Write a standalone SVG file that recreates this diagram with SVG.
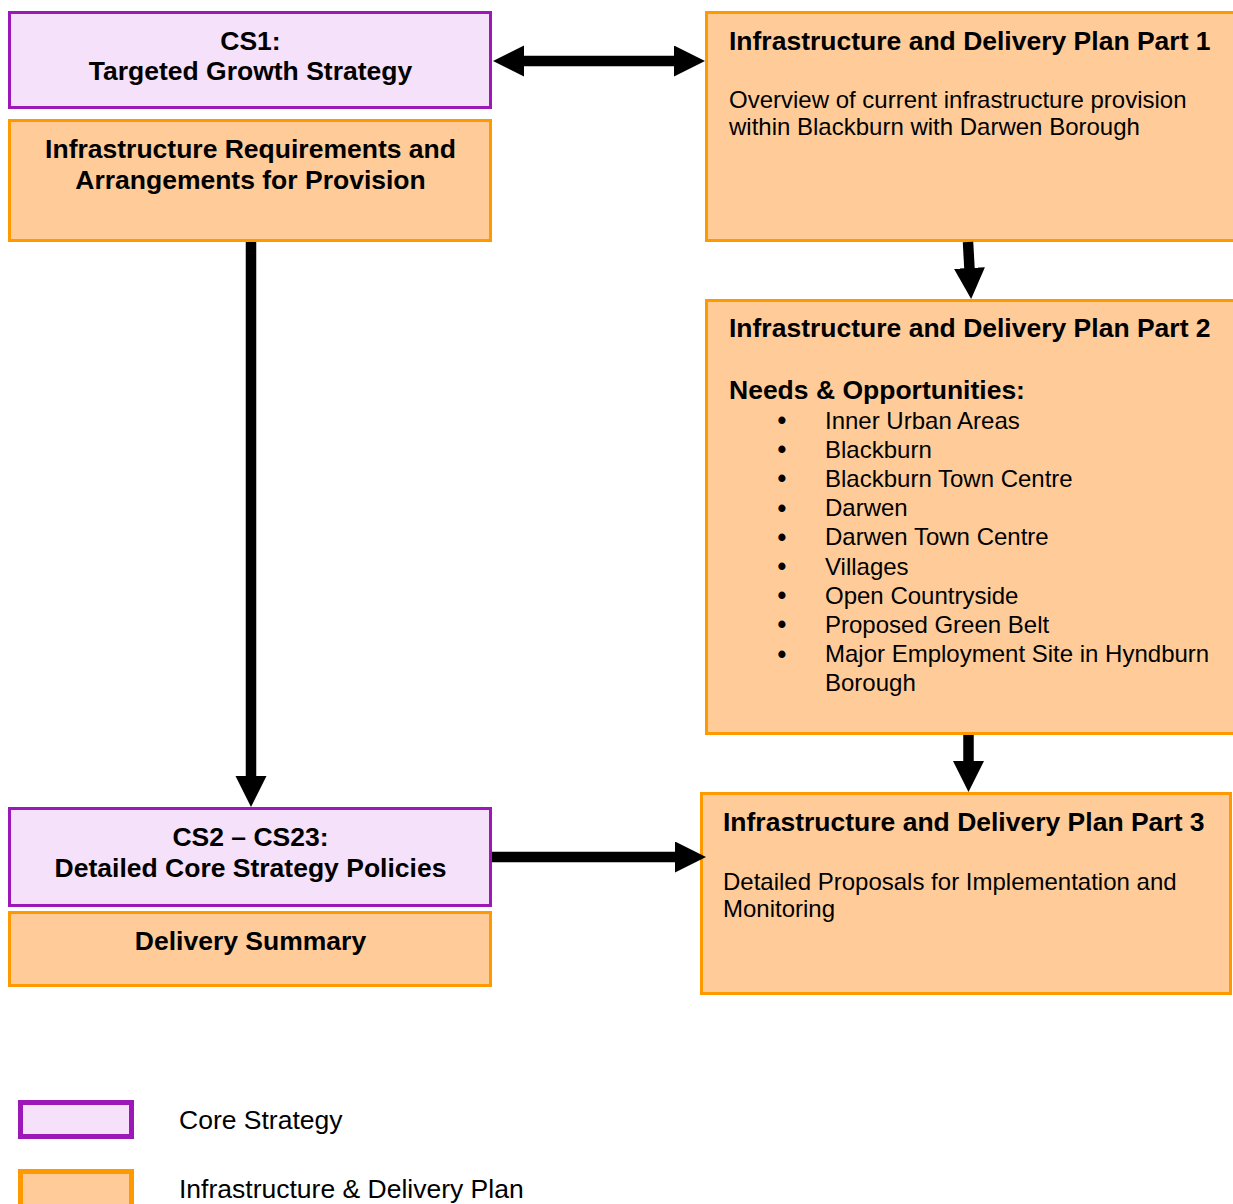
<svg xmlns="http://www.w3.org/2000/svg" width="1233" height="1204" viewBox="0 0 1233 1204">
  <style>
    .cs { fill: #F5E1F9; stroke: #9C19B8; stroke-width: 3; }
    .idp { fill: #FFCC99; stroke: #FF9900; stroke-width: 3; }
    .lcs { fill: #F5E1F9; stroke: #9C19B8; stroke-width: 5; }
    .lidp { fill: #FFCC99; stroke: #FF9900; stroke-width: 5; }
    text { font-family: "Liberation Sans", Arial, sans-serif; fill: #000; }
    .b { font-weight: bold; font-size: 26.5px; }
    .bc { font-weight: bold; font-size: 26.5px; text-anchor: middle; }
    .r { font-size: 24px; }
    .bul { font-size: 25px; font-weight: bold; text-anchor: middle; }
    .lg { font-size: 26.5px; }
    .conn { stroke: #000; stroke-width: 10.5; fill: none; }
  </style>
  <defs>
    <marker id="ah" markerUnits="userSpaceOnUse" markerWidth="32" markerHeight="32" viewBox="0 0 32 32" refX="1" refY="15.5" orient="auto-start-reverse">
      <path d="M0,0 L31,15.5 L0,31 Z" fill="#000"/>
    </marker>
  </defs>

  <rect width="1233" height="1204" fill="#fff"/>

  <g id="cs1">
    <rect class="cs" x="9.5" y="12.5" width="481" height="95"/>
    <text class="bc" x="250.5" y="50">CS1:</text>
    <text class="bc" x="250.5" y="80">Targeted Growth Strategy</text>
  </g>

  <g id="infra-req">
    <rect class="idp" x="9.5" y="120.5" width="481" height="120"/>
    <text class="bc" x="250.5" y="158">Infrastructure Requirements and</text>
    <text class="bc" x="250.5" y="189">Arrangements for Provision</text>
  </g>

  <g id="idp1">
    <rect class="idp" x="706.5" y="12.5" width="540" height="228"/>
    <text class="b" x="729" y="50">Infrastructure and Delivery Plan Part 1</text>
    <text class="r" x="729" y="108">Overview of current infrastructure provision</text>
    <text class="r" x="729" y="135">within Blackburn with Darwen Borough</text>
  </g>

  <g id="idp2">
    <rect class="idp" x="706.5" y="300.5" width="540" height="433"/>
    <text class="b" x="729" y="337">Infrastructure and Delivery Plan Part 2</text>
    <text class="b" x="729" y="399">Needs &amp; Opportunities:</text>
    <text class="bul" x="782" y="429">•</text><text class="r" x="825" y="428.5">Inner Urban Areas</text>
    <text class="bul" x="782" y="458.2">•</text><text class="r" x="825" y="457.7">Blackburn</text>
    <text class="bul" x="782" y="487.4">•</text><text class="r" x="825" y="486.9">Blackburn Town Centre</text>
    <text class="bul" x="782" y="516.6">•</text><text class="r" x="825" y="516.1">Darwen</text>
    <text class="bul" x="782" y="545.8">•</text><text class="r" x="825" y="545.3">Darwen Town Centre</text>
    <text class="bul" x="782" y="575">•</text><text class="r" x="825" y="574.5">Villages</text>
    <text class="bul" x="782" y="604.2">•</text><text class="r" x="825" y="603.7">Open Countryside</text>
    <text class="bul" x="782" y="633.4">•</text><text class="r" x="825" y="632.9">Proposed Green Belt</text>
    <text class="bul" x="782" y="662.6">•</text><text class="r" x="825" y="662.1">Major Employment Site in Hyndburn</text>
    <text class="r" x="825" y="691.3">Borough</text>
  </g>

  <g id="cs2">
    <rect class="cs" x="9.5" y="808.5" width="481" height="97"/>
    <text class="bc" x="250.5" y="846">CS2 – CS23:</text>
    <text class="bc" x="250.5" y="877">Detailed Core Strategy Policies</text>
  </g>

  <g id="delivery">
    <rect class="idp" x="9.5" y="912.5" width="481" height="73"/>
    <text class="bc" x="250.5" y="950">Delivery Summary</text>
  </g>

  <g id="idp3">
    <rect class="idp" x="701.5" y="793.5" width="529" height="200"/>
    <text class="b" x="723" y="831">Infrastructure and Delivery Plan Part 3</text>
    <text class="r" x="723" y="890">Detailed Proposals for Implementation and</text>
    <text class="r" x="723" y="917">Monitoring</text>
  </g>

  <g id="connectors">
    <line class="conn" x1="523" y1="61" x2="675" y2="61" marker-start="url(#ah)" marker-end="url(#ah)"/>
    <line class="conn" x1="968" y1="242" x2="969.5" y2="269" marker-end="url(#ah)"/>
    <line class="conn" x1="968.5" y1="735" x2="968.5" y2="762" marker-end="url(#ah)"/>
    <line class="conn" x1="251" y1="242" x2="251" y2="777" marker-end="url(#ah)"/>
    <line class="conn" x1="492" y1="857" x2="676" y2="857" marker-end="url(#ah)"/>
  </g>

  <g id="legend">
    <rect class="lcs" x="20.5" y="1102.5" width="111" height="34"/>
    <text class="lg" x="179" y="1129">Core Strategy</text>
    <rect class="lidp" x="20.5" y="1171.5" width="111" height="40"/>
    <text class="lg" x="179" y="1198">Infrastructure &amp; Delivery Plan</text>
  </g>
</svg>
